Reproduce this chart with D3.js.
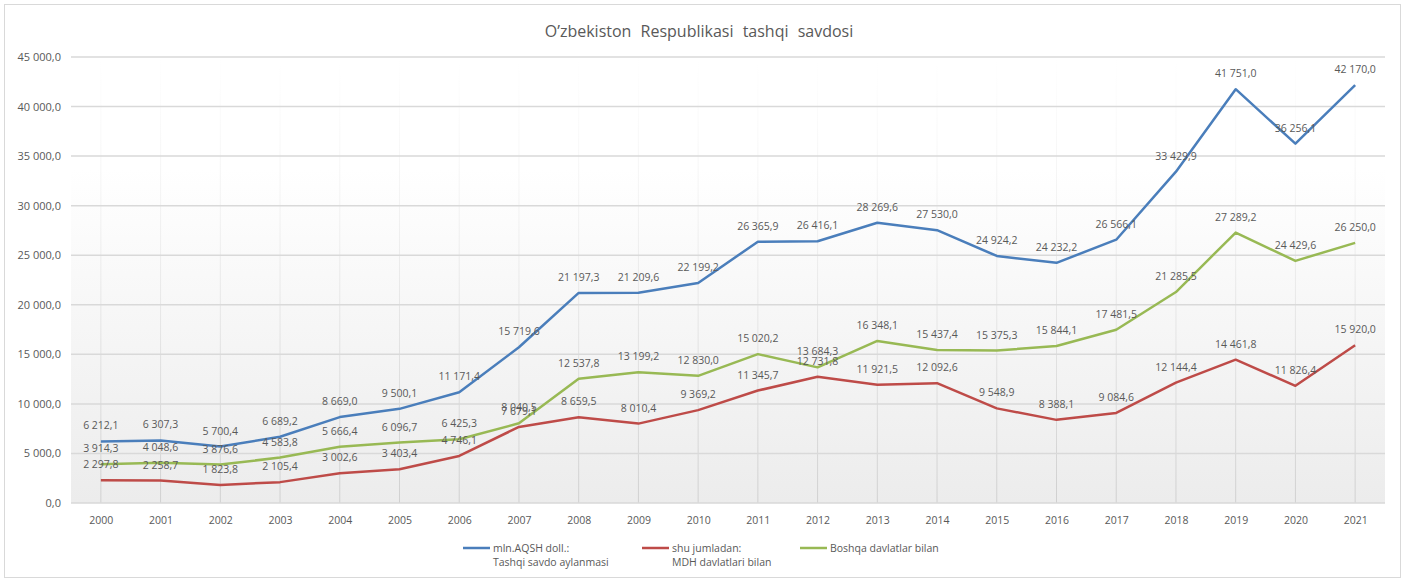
<!DOCTYPE html>
<html><head><meta charset="utf-8">
<script src="https://cdn.jsdelivr.net/npm/d3@7"></script>
<style>
html,body{margin:0;padding:0;background:#fff;}
text{font-family:"Open Sans","DejaVu Sans",sans-serif;}
</style></head>
<body><svg id="c" width="1407" height="581"></svg>
<script>
const years = ["2000","2001","2002","2003","2004","2005","2006","2007","2008","2009","2010","2011","2012","2013","2014","2015","2016","2017","2018","2019","2020","2021"];
const totalTrade = [6212.1,6307.3,5700.4,6689.2,8669.0,9500.1,11171.4,15719.6,21197.3,21209.6,22199.2,26365.9,26416.1,28269.6,27530.0,24924.2,24232.2,26566.1,33429.9,41751.0,36256.1,42170.0];
const cisTrade = [2297.8,2258.7,1823.8,2105.4,3002.6,3403.4,4746.1,7679.1,8659.5,8010.4,9369.2,11345.7,12731.8,11921.5,12092.6,9548.9,8388.1,9084.6,12144.4,14461.8,11826.4,15920.0];
const otherTrade = [3914.3,4048.6,3876.6,4583.8,5666.4,6096.7,6425.3,8040.5,12537.8,13199.2,12830.0,15020.2,13684.3,16348.1,15437.4,15375.3,15844.1,17481.5,21285.5,27289.2,24429.6,26250.0];
const yTicks = [0,5000,10000,15000,20000,25000,30000,35000,40000,45000];
const seriesNames = [["mln.AQSH doll.:","Tashqi savdo aylanmasi"],["shu jumladan:","MDH davlatlari bilan"],["Boshqa davlatlar bilan"]];
const title = "O’zbekiston Respublikasi tashqi savdosi";

const colors = ["#4a7ebb","#be4b48","#98b954"];
const series = [totalTrade, cisTrade, otherTrade];

const svg = d3.select("#c");
const L = 71, R = 1385, T = 57, B = 503;

const fmt = v => {
  const s = d3.format(",.1f")(v);
  return s.replace(/,/g," ").replace(".",",");
};

// frame
svg.append("rect").attr("x",4.5).attr("y",4.5).attr("width",1396).attr("height",573)
  .attr("fill","#fff").attr("stroke","#d9d9d9");

const defs = svg.append("defs");
const g1 = defs.append("linearGradient").attr("id","bg").attr("x1",0).attr("y1",0).attr("x2",0).attr("y2",1);
g1.append("stop").attr("offset","0%").attr("stop-color","#ffffff");
g1.append("stop").attr("offset","25%").attr("stop-color","#ffffff");
g1.append("stop").attr("offset","100%").attr("stop-color","#ececec");
const g2 = defs.append("linearGradient").attr("id","vg").attr("gradientUnits","userSpaceOnUse").attr("x1",0).attr("y1",T).attr("x2",0).attr("y2",B);
g2.append("stop").attr("offset","0%").attr("stop-color","#ffffff");
g2.append("stop").attr("offset","30%").attr("stop-color","#f4f4f4");
g2.append("stop").attr("offset","100%").attr("stop-color","#d0d0d0");

const x = d3.scalePoint().domain(years).range([L,R]).padding(0.5);
const y = d3.scaleLinear().domain([0,45000]).range([B,T]);

svg.append("rect").attr("x",L).attr("y",T).attr("width",R-L).attr("height",B-T).attr("fill","url(#bg)");

// vertical grid
svg.append("g").selectAll("line").data(years).join("line")
  .attr("x1",d=>x(d)).attr("x2",d=>x(d)).attr("y1",T).attr("y2",B)
  .attr("stroke","url(#vg)").attr("stroke-width",1);

// horizontal grid
svg.append("g").selectAll("line").data(yTicks).join("line")
  .attr("x1",L).attr("x2",R).attr("y1",d=>y(d)).attr("y2",d=>y(d))
  .attr("stroke","#d9d9d9").attr("stroke-width",1.5);

// y axis labels
const yAxis = d3.axisLeft(y).tickValues(yTicks).tickFormat(fmt).tickSize(0).tickPadding(10);
const ya = svg.append("g").attr("transform",`translate(${L},0)`).call(yAxis);
ya.select(".domain").remove();
ya.selectAll("text").attr("fill","#595959").style("font-size","11px").style("font-family","'Open Sans',sans-serif");

// x axis labels
const xAxis = d3.axisBottom(x).tickSize(0).tickPadding(14);
const xa = svg.append("g").attr("transform",`translate(0,${B})`).call(xAxis);
xa.select(".domain").remove();
xa.selectAll("text").attr("fill","#595959").style("font-size","10.5px").style("font-family","'Open Sans',sans-serif");

// lines
const line = d3.line().x((d,i)=>x(years[i])).y(d=>y(d));
series.forEach((s,k)=>{
  svg.append("path").datum(s).attr("d",line).attr("fill","none")
    .attr("stroke",colors[k]).attr("stroke-width",2.5).attr("stroke-linejoin","round");
});

// data labels
series.forEach((s,k)=>{
  svg.append("g").selectAll("text").data(s).join("text")
    .attr("x",(d,i)=>x(years[i])).attr("y",d=>y(d)-12)
    .attr("text-anchor","middle").attr("fill","#595959")
    .style("font-size","10.5px").text(d=>fmt(d));
});

// title
svg.append("text").attr("x",699).attr("y",37).attr("text-anchor","middle")
  .attr("fill","#595959").style("font-size","16px").style("word-spacing","5px").text(title);

// legend
const legX = [463,642,800];
seriesNames.forEach((names,k)=>{
  const gx = legX[k];
  svg.append("line").attr("x1",gx).attr("x2",gx+27).attr("y1",548).attr("y2",548)
    .attr("stroke",colors[k]).attr("stroke-width",2.5);
  names.forEach((n,j)=>{
    svg.append("text").attr("x",gx+30).attr("y",552+j*14).attr("fill","#595959")
      .style("font-size","10.5px").text(n);
  });
});
</script></body></html>
